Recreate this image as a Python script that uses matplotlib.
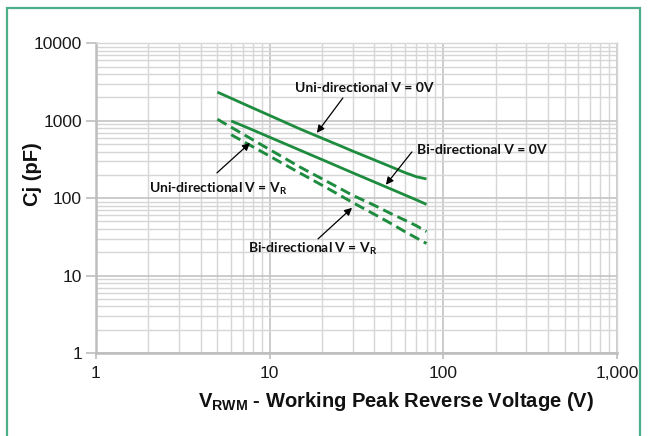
import matplotlib
matplotlib.use("Agg")
import matplotlib.pyplot as plt
from matplotlib import font_manager as fm
from matplotlib.ticker import FixedLocator, FixedFormatter, LogLocator, NullFormatter
from matplotlib.patches import Rectangle

# ---------------- data ----------------
vrwm = [5, 6, 7, 8, 10, 12, 15, 20, 25, 30, 40, 50, 60, 70, 80]
uni_0v = [2340, 1950, 1670, 1460, 1170, 975, 780, 595, 483, 406, 312, 254, 214, 189, 177]

vrwm_bi = [6, 7, 8, 10, 12, 15, 20, 25, 30, 40, 50, 60, 70, 80]
bi_0v = [993, 862, 759, 612, 514, 415, 315, 254, 213, 162, 131, 110, 95, 83]

uni_vr = [1045, 824, 675, 567, 424, 335, 251, 178, 136, 109, 81, 63, 52, 44, 37]
bi_vr = [660, 545, 461, 349, 277, 210, 147, 111, 88, 62, 47, 37, 30.6, 26]

x_ticks = [1, 10, 100, 1000]
x_tick_labels = ["1", "10", "100", "1,000"]
y_ticks = [1, 10, 100, 1000, 10000]
y_tick_labels = ["1", "10", "100", "1000", "10000"]

lbl_uni_0v = "Uni-directional V = 0V"
lbl_bi_0v = "Bi-directional V = 0V"
lbl_uni_vr = r"Uni-directional V = V$_\mathregular{R}$"
lbl_bi_vr = r"Bi-directional V = V$_\mathregular{R}$"
x_label = r"V$_\mathregular{RWM}$ - Working Peak Reverse Voltage (V)"
y_label = "Cj (pF)"

# ---------------- fonts ----------------
avail = {f.name for f in fm.fontManager.ttflist}
narrow = "Liberation Sans Narrow" if "Liberation Sans Narrow" in avail else "Liberation Sans"
annot_font = "Lato" if "Lato" in avail else "DejaVu Sans"

GREEN = "#1e8c3e"

fig = plt.figure(figsize=(6.48, 4.36), dpi=100)
fig.patch.set_facecolor("white")
ax = fig.add_axes([96/648, 1-353/436, (617-96)/648, (353-43.3)/436])

ax.set_xscale("log")
ax.set_yscale("log")
ax.set_xlim(1, 1000)
ax.set_ylim(1, 10000)

ax.plot(vrwm, uni_0v, color=GREEN, lw=2.0, solid_capstyle="butt")
ax.plot(vrwm_bi, bi_0v, color=GREEN, lw=2.0, solid_capstyle="butt")
ax.plot(vrwm, uni_vr, color=GREEN, lw=2.1, dashes=(3.6, 1.8))
ax.plot(vrwm_bi, bi_vr, color=GREEN, lw=2.1, dashes=(3.6, 1.8))

# grid
ax.xaxis.set_major_locator(FixedLocator(x_ticks))
ax.xaxis.set_major_formatter(FixedFormatter(x_tick_labels))
ax.yaxis.set_major_locator(FixedLocator(y_ticks))
ax.yaxis.set_major_formatter(FixedFormatter(y_tick_labels))
ax.xaxis.set_minor_locator(LogLocator(base=10, subs=range(2, 10)))
ax.yaxis.set_minor_locator(LogLocator(base=10, subs=range(2, 10)))
ax.xaxis.set_minor_formatter(NullFormatter())
ax.yaxis.set_minor_formatter(NullFormatter())
ax.grid(which="major", color="#c4c4c4", lw=1.2)
ax.grid(which="minor", color="#d6d6d6", lw=1.0)
ax.set_axisbelow(True)

for s in ["top", "right"]:
    ax.spines[s].set_color("#d6d6d6")
    ax.spines[s].set_linewidth(1.0)
for s in ["left", "bottom"]:
    ax.spines[s].set_color("#bdbdbd")
    ax.spines[s].set_linewidth(1.8)

ax.tick_params(axis="y", which="major", length=7, width=1.2, color="#bdbdbd", pad=3)
ax.tick_params(axis="x", which="major", length=4, width=1.2, color="#bdbdbd", pad=5)
ax.tick_params(which="minor", length=0)
for t in ax.get_xticklabels() + ax.get_yticklabels():
    t.set_fontfamily(narrow)
    t.set_fontsize(12.5)
    t.set_color("#1a1a1a")

ax.set_xlabel(x_label, fontfamily="Liberation Sans", fontweight="bold", fontsize=14.5, color="#111111")
ax.xaxis.set_label_coords(0.575, -0.118)
ax.set_ylabel(y_label, fontfamily="Liberation Sans", fontweight="bold", fontsize=14.5, color="#111111")
ax.yaxis.set_label_coords(-0.104, 0.578)

# annotations
tkw = dict(fontfamily=annot_font, fontweight="bold", fontsize=10, color="#111111",
           va="center", ha="left")
ax.text(14.0, 2640, lbl_uni_0v, **tkw)
ax.text(70.5, 419, lbl_bi_0v, **tkw)
ax.text(2.02, 132, lbl_uni_vr, **tkw)
ax.text(7.5, 22.2, lbl_bi_vr, **tkw)

akw = dict(arrowstyle="-|>", color="black", lw=0.9, mutation_scale=11, shrinkA=0, shrinkB=0)
ax.annotate("", xy=(18.7, 697), xytext=(26.4, 1968), arrowprops=akw)
ax.annotate("", xy=(46.7, 149), xytext=(65.9, 395), arrowprops=akw)
ax.annotate("", xy=(7.7, 516), xytext=(4.97, 212), arrowprops=akw)
ax.annotate("", xy=(29.8, 75), xytext=(19.0, 29.8), arrowprops=akw)

# outer green frame
fig.patches.append(Rectangle((7/648, -0.05), (640-7)/648, 1.05 - 8/436,
                             transform=fig.transFigure, fill=False,
                             edgecolor="#4fae8a", lw=1.6))

fig.savefig("out.png", dpi=100, facecolor="white")
